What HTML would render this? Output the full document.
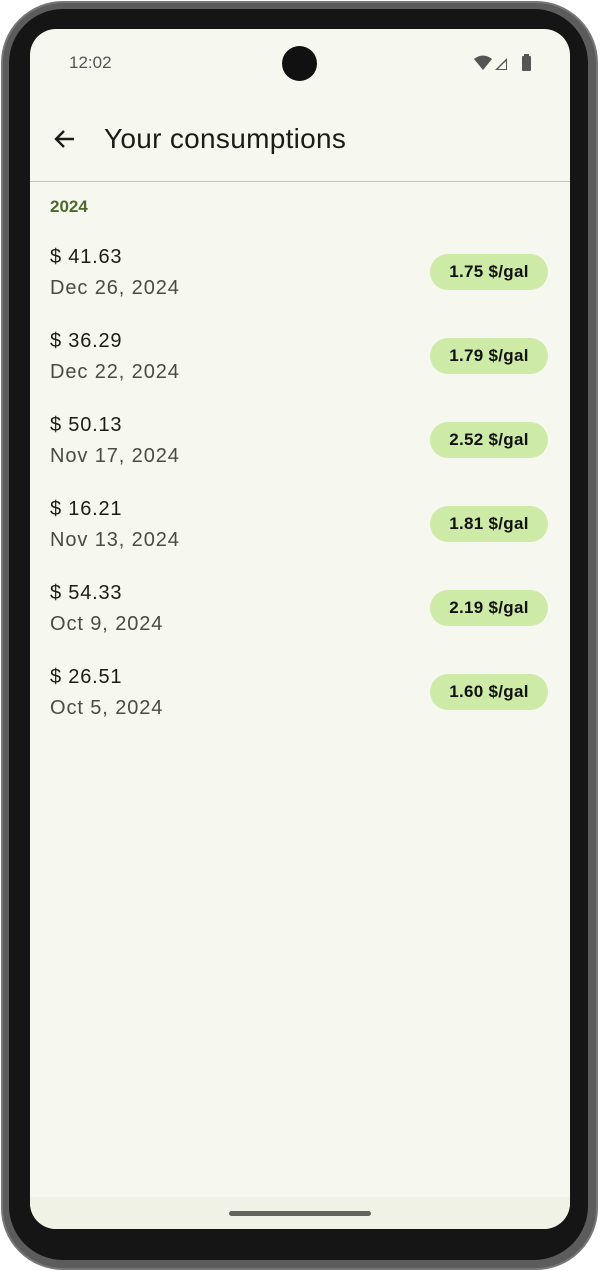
<!DOCTYPE html>
<html><head><meta charset="utf-8"><style>
*{margin:0;padding:0;box-sizing:border-box}
body{width:600px;height:1271px;background:#fff;font-family:"Liberation Sans",sans-serif;position:relative;overflow:hidden}
.frame{position:absolute;left:1px;top:1px;width:597px;height:1269px;border-radius:62px;background:#5c5c5c;border:2px solid #777}
.bezel{position:absolute;left:9px;top:9px;width:579px;height:1251px;border-radius:54px;background:#151515}
.screen{position:absolute;left:30px;top:29px;width:540px;height:1200px;border-radius:26px;background:#f6f7ef;overflow:hidden}
.abs{position:absolute}
.chip{position:absolute;left:400px;width:118px;height:36px;border-radius:18px;background:#cdeba6;color:#111;font-weight:bold;font-size:17px;text-align:center;line-height:36px;letter-spacing:0.3px}
.amt{position:absolute;left:20px;font-size:20px;color:#1b1c18;letter-spacing:0.8px}
.date{position:absolute;left:20px;font-size:20px;color:#4a4b45;letter-spacing:0.9px}
</style></head><body>
<div class="frame"></div>
<div class="bezel"></div>
<div class="screen">
  <div class="abs" style="left:39px;top:24px;font-size:17px;color:#555">12:02</div>
  <div class="abs" style="left:252px;top:17px;width:35px;height:35px;border-radius:50%;background:#111"></div>
  <svg class="abs" style="left:444px;top:25px" width="60" height="20" viewBox="0 0 60 20">
    <path d="M0 5 Q9 -2 18 5 L9 16 Z" fill="#555"/>
    <path d="M21 16 L33 4 L33 16 Z M24 15 L32 15 L32 7 Z" fill="#555"/>
    <rect x="48" y="2" width="9" height="15" rx="1" fill="#555"/><rect x="50" y="0" width="5" height="3" fill="#555"/>
  </svg>
  <div class="abs" style="left:22px;top:97px;width:26px;height:26px">
    <svg width="26" height="26" viewBox="0 0 26 26"><path d="M22 13 H5 M12 5 L4 13 L12 21" stroke="#1b1c18" stroke-width="2.4" fill="none"/></svg>
  </div>
  <div class="abs" style="left:74px;top:94px;font-size:28px;color:#1b1c18;letter-spacing:0.3px">Your consumptions</div>
  <div class="abs" style="left:0;top:152px;width:540px;height:1px;background:#c5c8b8"></div>
  <div class="abs" style="left:20px;top:168px;font-size:17px;font-weight:bold;color:#4c6a2a">2024</div>
  <div id="list"></div>
  <div class="abs" style="left:0;top:1168px;width:540px;height:32px;background:#f0f2e6"></div>
  <div class="abs" style="left:199px;top:1182px;width:142px;height:5px;border-radius:3px;background:#63645e"></div>
</div>
<script>
const amounts=["$ 41.63","$ 36.29","$ 50.13","$ 16.21","$ 54.33","$ 26.51"];
const dates=["Dec 26, 2024","Dec 22, 2024","Nov 17, 2024","Nov 13, 2024","Oct 9, 2024","Oct 5, 2024"];
const prices=["1.75 $/gal","1.79 $/gal","2.52 $/gal","1.81 $/gal","2.19 $/gal","1.60 $/gal"];
const list=document.getElementById('list');
amounts.forEach((a,i)=>{
  const y=i*84;
  const row=document.createElement('div');
  
  
  row.className='abs';row.style.cssText=`left:0;top:${208+y}px;width:540px;height:84px`;
  const am=document.createElement('div');am.className='amt';am.style.top='9px';am.textContent=a;
  
  
  const d=document.createElement('div');d.className='date';d.style.top='40px';d.textContent=dates[i];
  
  
  const c=document.createElement('div');c.className='chip';c.style.top='17px';c.textContent=prices[i];
  
  
  row.append(am,d,c);list.appendChild(row);
});
</script>
</body></html>
